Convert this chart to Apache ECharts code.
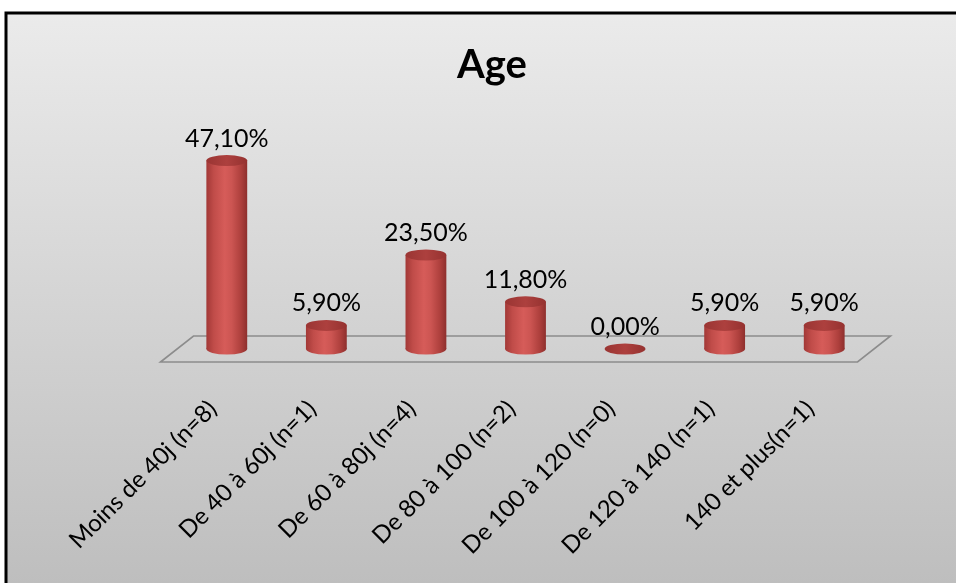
<!DOCTYPE html>
<html>
<head>
<meta charset="utf-8">
<script src="https://cdn.jsdelivr.net/npm/echarts@6/dist/echarts.min.js"></script>
<style>
  html, body { margin: 0; padding: 0; background: #ffffff; }
  #chart { width: 956px; height: 583px; }
</style>
</head>
<body>
<div id="chart"></div>
<script>
// Age groups and their share of cases (%)
const categories = [
  'Moins de 40j (n=8)',
  'De 40 à 60j (n=1)',
  'De 60 à 80j (n=4)',
  'De 80 à 100 (n=2)',
  'De 100 à 120 (n=0)',
  'De 120 à 140 (n=1)',
  '140 et plus(n=1)'
];
const shares = [47.1, 5.9, 23.5, 11.8, 0.0, 5.9, 5.9];
const chartTitle = 'Age';

const FONT = 'Lato, "Open Sans", sans-serif';
const BAR_RATIO = 0.41;   // cylinder width relative to the category slot
const CAP_RY = 5.5;       // vertical radius of the cylinder ends
const FLOOR_DX = 16.5;    // half depth of the floor, horizontal
const FLOOR_DY = 13;      // half depth of the floor, vertical

function pct(v) {
  return v.toFixed(2).replace('.', ',') + '%';
}

function bodyGradient() {
  return new echarts.graphic.LinearGradient(0, 0, 1, 0, [
    { offset: 0, color: '#a23836' },
    { offset: 0.18, color: '#c04c49' },
    { offset: 0.45, color: '#d65c59' },
    { offset: 0.62, color: '#cc5552' },
    { offset: 0.85, color: '#ad3f3c' },
    { offset: 1, color: '#8e2f2d' }
  ]);
}

function capGradient() {
  return new echarts.graphic.LinearGradient(0, 0, 1, 0, [
    { offset: 0, color: '#9a3533' },
    { offset: 0.5, color: '#ad403e' },
    { offset: 1, color: '#953230' }
  ]);
}

// Cylinder per category: body, rounded base and a darker top face
function renderCylinder(params, api) {
  const idx = api.value(0);
  const val = api.value(1);
  const top = api.coord([idx, val]);
  const base = api.coord([idx, 0]);
  const w = api.size([1, 0])[0] * BAR_RATIO;
  const rx = w / 2;
  const cx = top[0];
  const children = [];
  if (base[1] - top[1] > 0.5) {
    children.push({
      type: 'circle', x: cx, y: base[1], scaleY: CAP_RY / rx,
      shape: { cx: 0, cy: 0, r: rx },
      style: { fill: bodyGradient() }
    });
    children.push({
      type: 'rect',
      shape: { x: cx - rx, y: top[1], width: w, height: base[1] - top[1] },
      style: { fill: bodyGradient() }
    });
  }
  children.push({
    type: 'circle', x: cx, y: top[1], scaleY: CAP_RY / rx,
    shape: { cx: 0, cy: 0, r: rx },
    style: { fill: capGradient() }
  });
  children.push({
    type: 'text', x: cx, y: top[1] - CAP_RY - 4,
    style: {
      text: pct(val), align: 'center', verticalAlign: 'bottom',
      fontFamily: FONT, fontSize: 25, fill: '#000000'
    }
  });
  return { type: 'group', children: children };
}

// Floor plane under the cylinders, spanning the plot width
function renderFloor(params, api) {
  const cs = params.coordSys;
  const x0 = cs.x, x1 = cs.x + cs.width, yb = cs.y + cs.height;
  return {
    type: 'polygon',
    shape: {
      points: [
        [x0 - FLOOR_DX, yb + FLOOR_DY],
        [x0 + FLOOR_DX, yb - FLOOR_DY],
        [x1 + FLOOR_DX, yb - FLOOR_DY],
        [x1 - FLOOR_DX, yb + FLOOR_DY]
      ]
    },
    style: { fill: 'rgba(255,255,255,0.04)', stroke: '#8c8c8c', lineWidth: 1.6 }
  };
}

const chart = echarts.init(document.getElementById('chart'), null, { renderer: 'canvas' });

chart.setOption({
  animation: false,
  backgroundColor: '#ffffff',
  graphic: [{
    type: 'rect', z: -100, silent: true,
    shape: { x: 6, y: 13, width: 1000, height: 620 },
    style: {
      fill: new echarts.graphic.LinearGradient(0, 0, 0, 1, [
        { offset: 0, color: '#ebebeb' },
        { offset: 1, color: '#bababa' }
      ]),
      stroke: '#000000', lineWidth: 3
    }
  }],
  title: {
    text: chartTitle,
    left: 487, top: 40, textAlign: 'center',
    textStyle: { fontFamily: FONT, fontSize: 40, fontWeight: 'bold', color: '#000000' }
  },
  grid: [
    { left: 177, right: 82, top: 149, bottom: 234 },
    { left: 163, right: 96, top: 149, bottom: 234 }
  ],
  xAxis: [
    {
      gridIndex: 0, type: 'category', data: categories,
      axisLine: { show: false }, axisTick: { show: false }, axisLabel: { show: false },
      splitLine: { show: false }
    },
    {
      gridIndex: 1, type: 'category', data: categories,
      axisLine: { show: false }, axisTick: { show: false }, splitLine: { show: false },
      axisLabel: {
        rotate: 45, margin: 56, interval: 0,
        fontFamily: FONT, fontSize: 24, color: '#000000'
      }
    }
  ],
  yAxis: [
    { gridIndex: 0, type: 'value', min: 0, max: 50, show: false, splitLine: { show: false } },
    { gridIndex: 1, type: 'value', min: 0, max: 50, show: false, splitLine: { show: false } }
  ],
  series: [
    {
      type: 'custom', name: 'floor', xAxisIndex: 0, yAxisIndex: 0, z: 1,
      renderItem: renderFloor, data: [[0, 0]], silent: true
    },
    {
      type: 'custom', name: 'Age', xAxisIndex: 0, yAxisIndex: 0, z: 2,
      renderItem: renderCylinder,
      encode: { x: 0, y: 1 },
      data: shares.map(function (v, i) { return [i, v]; })
    }
  ]
});
</script>
</body>
</html>
